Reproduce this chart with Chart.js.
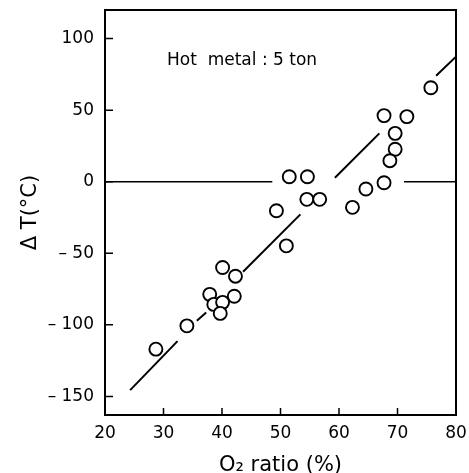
<!DOCTYPE html>
<html>
<head>
<meta charset="utf-8">
<script src="https://cdn.jsdelivr.net/npm/chart.js@4"></script>
<style>
  html, body { margin: 0; padding: 0; background: #fff; }
  #wrap { width: 469px; height: 473px; }
</style>
</head>
<body>
<div id="wrap"><canvas id="myChart"></canvas></div>
<script>
// measured points: O2 ratio (%) vs delta T (C)
const o2 = [28.7, 34.0, 37.9, 38.6, 40.1, 39.7, 40.1, 42.3, 42.1, 49.3, 51.0, 51.5, 54.6, 54.5, 56.7, 62.3, 64.6, 67.7, 67.7, 71.6, 69.6, 69.6, 68.7, 75.7];
const dT = [-117, -100.7, -78.7, -85.7, -84.3, -92, -59.9, -66, -80, -20.3, -44.8, 3.5, 3.5, -12.3, -12.3, -17.9, -5.1, -0.7, 46.2, 45.5, 33.8, 22.7, 14.7, 65.7];

// fitted line, drawn broken around the circles (null = gap)
const fitX = [24.3, 32.4, null, 35.7, 37.3, null, 43.6, 53.4, null, 59.3, 66.9, null, 76.6, 80];
const fitY = [-145.6, -111.4, null, -97.2, -91.3, null, -62.9, -22.8, null, 2.8, 33.8, null, 74.1, 87.4];

// zero reference line
const zeroX = [20, 48.6, null, 71.1, 80];
const zeroY = [0, 0, null, 0, 0];

const xTicks = [20, 30, 40, 50, 60, 70, 80];
const yTicks = [-150, -100, -50, 0, 50, 100];

const pts = (xs, ys) => xs.map((x, i) => ({ x: x, y: ys[i] }));
const FONT = '"DejaVu Sans", sans-serif';

const frame = {
  id: 'frame',
  afterDraw(chart) {
    const c = chart.ctx, a = chart.chartArea;
    const xs = chart.scales.x, ys = chart.scales.y;
    c.save();
    c.strokeStyle = '#000';
    c.lineWidth = 2;
    c.strokeRect(a.left, a.top, a.right - a.left, a.bottom - a.top);
    c.lineWidth = 1.5;
    c.beginPath();
    xTicks.forEach(v => {
      const p = xs.getPixelForValue(v);
      c.moveTo(p, a.bottom); c.lineTo(p, a.bottom - 7);
    });
    yTicks.forEach(v => {
      const p = ys.getPixelForValue(v);
      c.moveTo(a.left, p); c.lineTo(a.left + 8, p);
    });
    c.stroke();
    // note
    c.fillStyle = '#000';
    c.font = '17px ' + FONT;
    c.textBaseline = 'middle';
    c.fillText('Hot  metal : 5 ton', xs.getPixelForValue(30.6), ys.getPixelForValue(85));
    c.restore();
  }
};

const ctx = document.getElementById('myChart').getContext('2d');

new Chart(ctx, {
  type: 'scatter',
  data: {
    datasets: [
      {
        data: pts(o2, dT),
        pointStyle: 'circle',
        pointRadius: 6.5,
        pointBorderWidth: 1.9,
        pointBorderColor: '#000',
        pointBackgroundColor: '#fff',
        order: 0
      },
      {
        type: 'line',
        data: pts(fitX, fitY),
        borderColor: '#000',
        borderWidth: 2,
        pointRadius: 0,
        spanGaps: false,
        order: 1
      },
      {
        type: 'line',
        data: pts(zeroX, zeroY),
        borderColor: '#000',
        borderWidth: 1.6,
        pointRadius: 0,
        spanGaps: false,
        order: 2
      }
    ]
  },
  options: {
    responsive: true,
    maintainAspectRatio: false,
    animation: false,
    layout: { padding: { left: 0, right: 13, top: 10, bottom: 0 } },
    plugins: { legend: { display: false }, tooltip: { enabled: false } },
    scales: {
      x: {
        type: 'linear',
        min: 20,
        max: 80,
        afterBuildTicks: s => { s.ticks = xTicks.map(v => ({ value: v })); },
        afterFit: s => { s.height = 58; },
        grid: { display: false },
        border: { display: false },
        ticks: { color: '#000', font: { family: FONT, size: 17 }, padding: 0, maxRotation: 0 },
        title: { display: true, text: 'O\u2082 ratio (%)', color: '#000', font: { family: FONT, size: 21 }, padding: { top: 0, bottom: -5 } }
      },
      y: {
        type: 'linear',
        min: -163,
        max: 120,
        afterBuildTicks: s => { s.ticks = yTicks.map(v => ({ value: v })); },
        afterFit: s => { s.width = 105; s.paddingTop = 0; s.paddingBottom = 0; },
        grid: { display: false },
        border: { display: false },
        ticks: {
          color: '#000',
          font: { family: FONT, size: 17 },
          padding: 3,
          callback: v => v < 0 ? '\u2013 ' + Math.abs(v) : String(v)
        },
        title: { display: true, text: '\u0394 T(\u00B0C)', color: '#000', font: { family: FONT, size: 21 }, padding: { top: 18, bottom: 0 } }
      }
    }
  },
  plugins: [frame]
});
</script>
</body>
</html>
